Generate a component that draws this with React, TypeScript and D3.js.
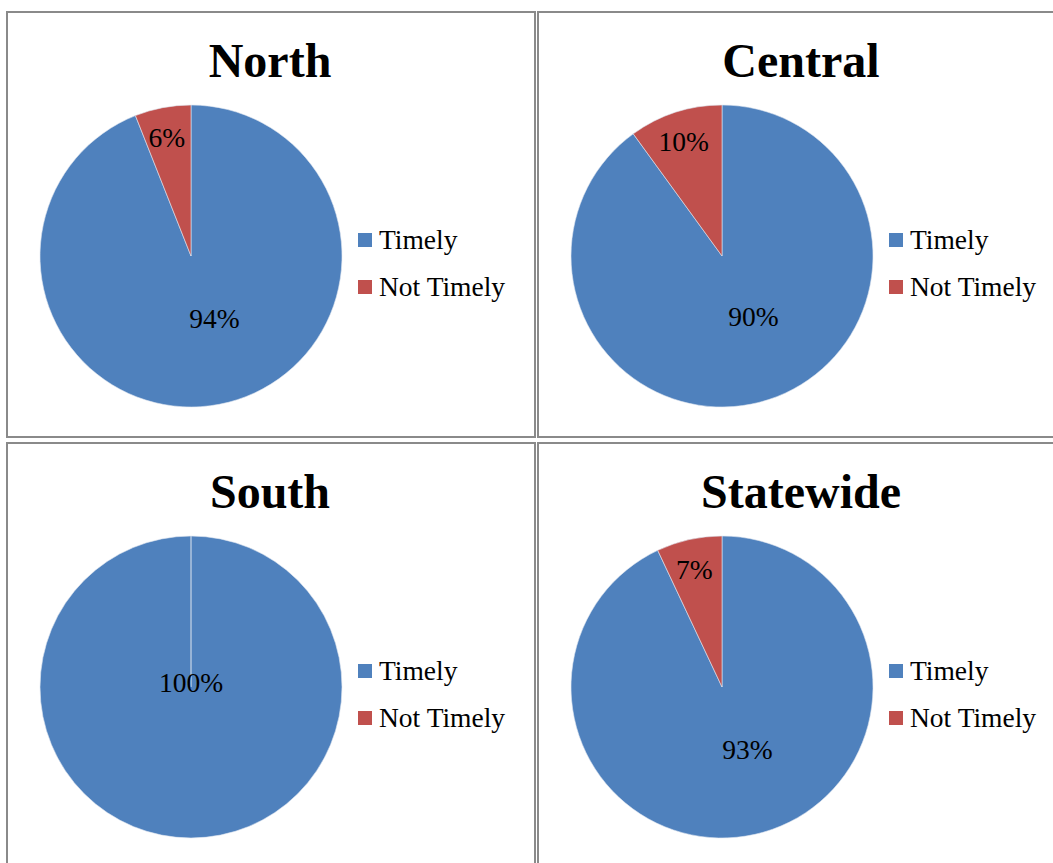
import React, { useRef, useEffect } from 'react';
import * as d3 from 'd3';

const regions = ['North', 'Central', 'South', 'Statewide'];
const categories = ['Timely', 'Not Timely'];
const timelyValues = [94, 90, 100, 93];
const notTimelyValues = [6, 10, 0, 7];

const colors = ['#4F81BD', '#C0504D'];
const fontFamily = '"Liberation Serif", "Times New Roman", serif';

const App: React.FC = () => {
    const d3Container = useRef<SVGSVGElement>(null);

    useEffect(() => {
        if (!d3Container.current) return;
        const svg = d3.select(d3Container.current);
        svg.selectAll('*').remove();

        svg.append('rect').attr('width', 1053).attr('height', 863).attr('fill', '#fff');

        const panelX = [7, 538];
        const panelY = [12, 443];
        const panelW = 528;
        const panelH = 425;
        const radius = 151;

        const pie = d3.pie<number>().sort(null).value(d => d);
        const arc = d3.arc<d3.PieArcDatum<number>>().innerRadius(0).outerRadius(radius);

        regions.forEach((region, i) => {
            const px = panelX[i % 2];
            const py = panelY[Math.floor(i / 2)];
            const g = svg.append('g').attr('transform', `translate(${px}, ${py})`);

            g.append('rect')
                .attr('x', 0)
                .attr('y', 0)
                .attr('width', panelW)
                .attr('height', panelH)
                .attr('fill', 'none')
                .attr('stroke', '#8a8a8a')
                .attr('stroke-width', 2);

            g.append('text')
                .attr('x', 263)
                .attr('y', 65)
                .attr('text-anchor', 'middle')
                .attr('font-family', fontFamily)
                .attr('font-weight', 'bold')
                .attr('font-size', '48px')
                .text(region);

            const values = [timelyValues[i], notTimelyValues[i]];
            const arcs = pie(values);
            const pg = g.append('g').attr('transform', `translate(${184}, ${244})`);

            pg.selectAll('path')
                .data(arcs)
                .enter()
                .append('path')
                .attr('d', d => arc(d)!)
                .attr('fill', (d, j) => colors[j])
                .attr('stroke', '#dfe6f0')
                .attr('stroke-width', 0.6);

            pg.selectAll('text.label')
                .data(arcs.filter(d => d.data > 0))
                .enter()
                .append('text')
                .attr('class', 'label')
                .attr('transform', d => {
                    if (d.data === 100) return 'translate(0, -4)';
                    const mid = (d.startAngle + d.endAngle) / 2;
                    const r = d.data < 50 ? radius * 0.78 : radius * 0.44;
                    return `translate(${Math.sin(mid) * r + (d.data < 50 ? -2 : 11)}, ${-Math.cos(mid) * r - 2})`;
                })
                .attr('text-anchor', 'middle')
                .attr('dy', '0.33em')
                .attr('font-family', fontFamily)
                .attr('font-size', '27.5px')
                .text(d => `${d.data}%`);

            const legend = g.selectAll('g.legend')
                .data(categories)
                .enter()
                .append('g')
                .attr('class', 'legend')
                .attr('transform', (d, j) => `translate(351, ${221 + j * 47})`);

            legend.append('rect')
                .attr('width', 14)
                .attr('height', 14)
                .attr('fill', (d, j) => colors[j]);

            legend.append('text')
                .attr('x', 21)
                .attr('y', 16)
                .attr('font-family', fontFamily)
                .attr('font-size', '27.5px')
                .text(d => d);
        });
    }, []);

    return (
        <svg
            ref={d3Container}
            width={1053}
            height={863}
            style={{ position: 'fixed', left: 0, top: 0 }}
        />
    );
};

export default App;
